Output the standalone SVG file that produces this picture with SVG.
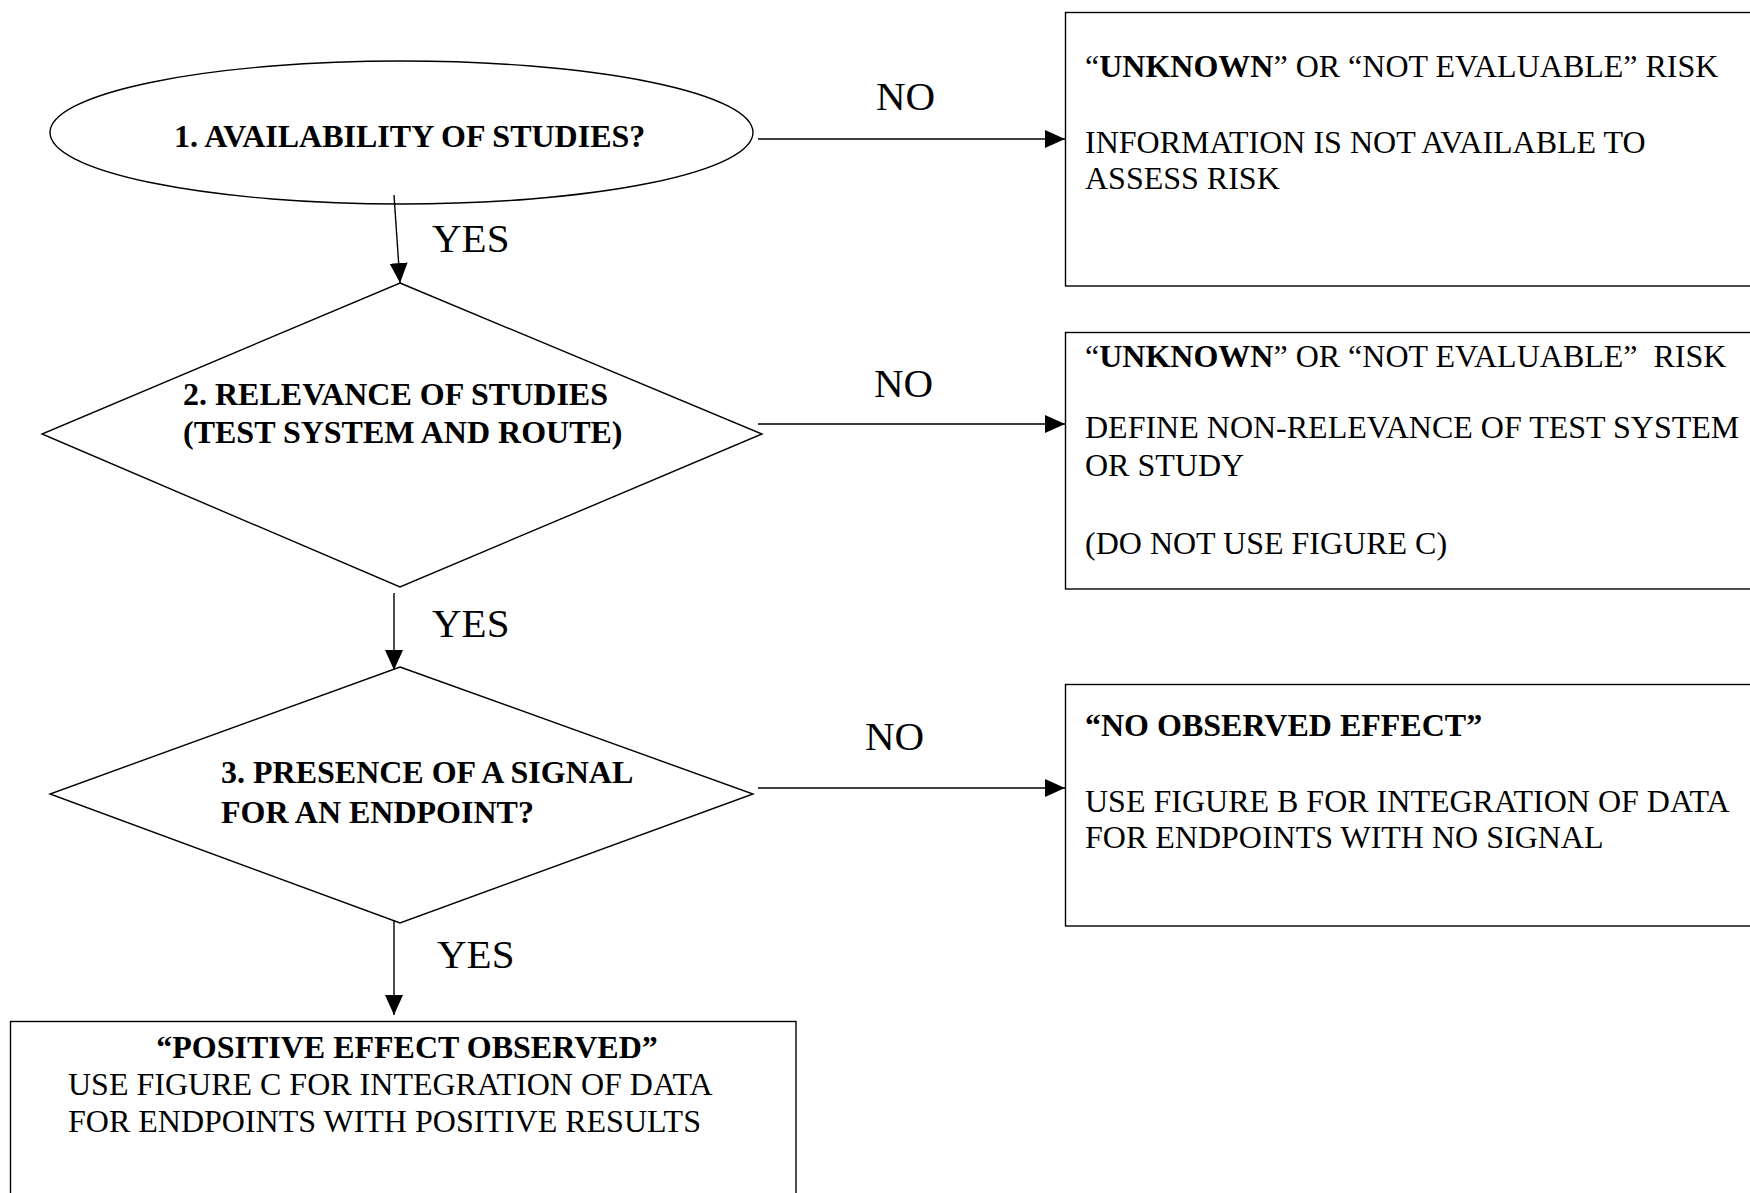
<svg xmlns="http://www.w3.org/2000/svg" width="1750" height="1193" viewBox="0 0 1750 1193">
<style>
text{font-family:"Liberation Serif","Times New Roman",serif;fill:#000}
.t{font-size:32px}
.b{font-size:32px;font-weight:bold}
.lbl{font-size:41px}
.shape{fill:#fff;stroke:#000;stroke-width:1.4}
.conn{stroke:#000;stroke-width:1.4;fill:none}
</style>
<defs>
<marker id="ah" markerUnits="userSpaceOnUse" markerWidth="20" markerHeight="18" refX="20" refY="9" orient="auto">
<path d="M0,0 L20,9 L0,18 z" fill="#000"/>
</marker>
</defs>
<g id="n1">
<ellipse class="shape" cx="401.5" cy="132.5" rx="351.5" ry="71.5"/>
<text class="b" x="174" y="147">1. AVAILABILITY OF STUDIES?</text>
</g>
<g id="n2">
<polygon class="shape" points="400,283 762,434 400,587 42,434"/>
<text class="b" x="183" y="405">2. RELEVANCE OF STUDIES</text>
<text class="b" x="183" y="443">(TEST SYSTEM AND ROUTE)</text>
</g>
<g id="n3">
<polygon class="shape" points="400,667 753,794 400,923 50,794"/>
<text class="b" x="221" y="783">3. PRESENCE OF A SIGNAL</text>
<text class="b" x="221" y="823">FOR AN ENDPOINT?</text>
</g>
<g id="r1">
<rect class="shape" x="1065.5" y="12.5" width="700" height="273.5"/>
<text class="t" x="1085" y="77">“<tspan font-weight="bold">UNKNOWN</tspan>” OR “NOT EVALUABLE” RISK</text>
<text class="t" x="1085" y="153">INFORMATION IS NOT AVAILABLE TO</text>
<text class="t" x="1085" y="189">ASSESS RISK</text>
</g>
<g id="r2">
<rect class="shape" x="1065.5" y="332.5" width="700" height="256.5"/>
<text class="t" x="1085" y="367" xml:space="preserve">“<tspan font-weight="bold">UNKNOWN</tspan>” OR “NOT EVALUABLE”  RISK</text>
<text class="t" x="1085" y="438">DEFINE NON-RELEVANCE OF TEST SYSTEM</text>
<text class="t" x="1085" y="476">OR STUDY</text>
<text class="t" x="1085" y="554">(DO NOT USE FIGURE C)</text>
</g>
<g id="r3">
<rect class="shape" x="1065.5" y="684.5" width="700" height="241.5"/>
<text class="b" x="1085" y="736">“NO OBSERVED EFFECT”</text>
<text class="t" x="1085" y="812">USE FIGURE B FOR INTEGRATION OF DATA</text>
<text class="t" x="1085" y="848">FOR ENDPOINTS WITH NO SIGNAL</text>
</g>
<g id="r4">
<rect class="shape" x="10.5" y="1021.5" width="785.5" height="200"/>
<text class="b" x="407" y="1058" text-anchor="middle">“POSITIVE EFFECT OBSERVED”</text>
<text class="t" x="68" y="1095">USE FIGURE C FOR INTEGRATION OF DATA</text>
<text class="t" x="68" y="1132">FOR ENDPOINTS WITH POSITIVE RESULTS</text>
</g>
<g id="connectors">
<line class="conn" x1="758" y1="139" x2="1065" y2="139" marker-end="url(#ah)"/>
<line class="conn" x1="758" y1="424" x2="1065" y2="424" marker-end="url(#ah)"/>
<line class="conn" x1="758" y1="788" x2="1065" y2="788" marker-end="url(#ah)"/>
<line class="conn" x1="394" y1="195" x2="400" y2="283" marker-end="url(#ah)"/>
<line class="conn" x1="394" y1="593" x2="394" y2="670" marker-end="url(#ah)"/>
<line class="conn" x1="394" y1="920" x2="394" y2="1015" marker-end="url(#ah)"/>
<text class="lbl" x="876" y="110">NO</text>
<text class="lbl" x="874" y="397">NO</text>
<text class="lbl" x="865" y="750">NO</text>
<text class="lbl" x="432" y="252">YES</text>
<text class="lbl" x="432" y="637">YES</text>
<text class="lbl" x="437" y="968">YES</text>
</g>
</svg>
